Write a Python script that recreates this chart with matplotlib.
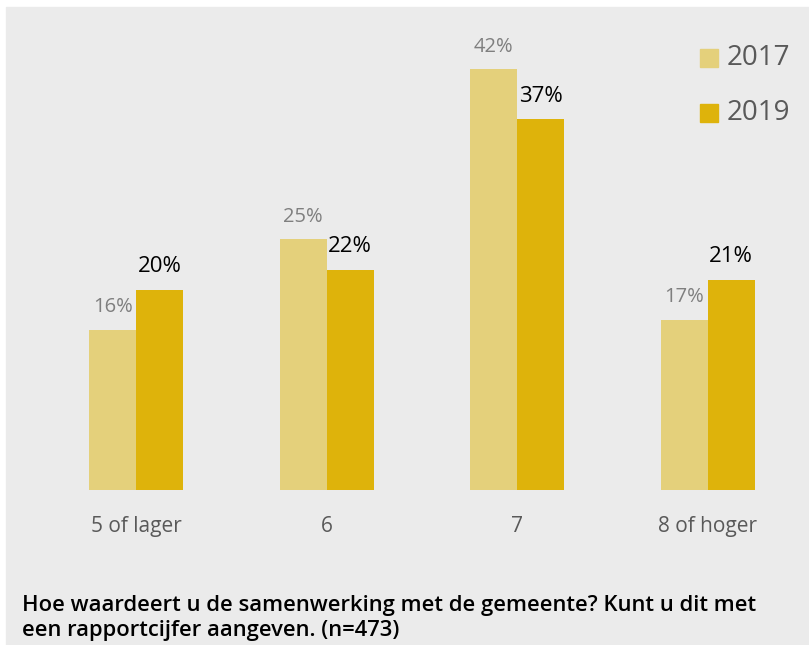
import matplotlib.pyplot as plt
import numpy as np

plt.rcParams['font.family'] = ['Open Sans', 'DejaVu Sans']

categories = ['5 of lager', '6', '7', '8 of hoger']
values_2017 = [16, 25, 42, 17]
values_2019 = [20, 22, 37, 21]
series_names = ['2017', '2019']

color_2017 = '#E4D07B'
color_2019 = '#DEB30B'
bg = '#EBEBEB'

fig = plt.figure(figsize=(8.09, 6.45), dpi=100)
# grijze achtergrond met witte rand links/boven
fig.patches.append(plt.Rectangle((6 / 809, 0), 1, 1 - 7 / 645,
                                 transform=fig.transFigure, color=bg, zorder=-1))

ax = fig.add_axes([41 / 809, (645 - 490) / 645, 762 / 809, 451 / 645])
ax.set_facecolor('none')

x = np.arange(len(categories))
w = 47 / 190.5
b1 = ax.bar(x - w / 2, values_2017, w, color=color_2017, label=series_names[0])
b2 = ax.bar(x + w / 2, values_2019, w, color=color_2019, label=series_names[1])

for rect, v in zip(b1, values_2017):
    ax.annotate(f'{v}%', (rect.get_x() + rect.get_width() / 2, v),
                xytext=(0, 9), textcoords='offset points', ha='center', va='bottom',
                fontsize=14.5, color='#7F7F7F')
for rect, v in zip(b2, values_2019):
    ax.annotate(f'{v}%', (rect.get_x() + rect.get_width() / 2, v),
                xytext=(0, 9), textcoords='offset points', ha='center', va='bottom',
                fontsize=16, color='black')

ax.set_xlim(-0.5, 3.5)
ax.set_ylim(0, 45)
ax.set_yticks([])
ax.set_xticks(x)
ax.set_xticklabels(categories, fontsize=15, color='#595959')
ax.tick_params(axis='x', length=0, pad=19)
for s in ax.spines.values():
    s.set_visible(False)

# legenda
for i, (name, col) in enumerate(zip(series_names, [color_2017, color_2019])):
    yc = 1 - (58 + i * 55) / 645
    fig.patches.append(plt.Rectangle((700 / 809, yc - 9 / 645), 18 / 809, 18 / 645,
                                     transform=fig.transFigure, color=col, zorder=3))
    fig.text(727 / 809, yc, name, fontsize=20, color='#595959', va='center', ha='left')

fig.text(22 / 809, 1 - 618 / 645,
         'Hoe waardeert u de samenwerking met de gemeente? Kunt u dit met\neen rapportcijfer aangeven. (n=473)',
         fontsize=15.85, fontweight='semibold', color='black', va='center', ha='left',
         linespacing=1.27)

fig.savefig('out.png', dpi=100)
